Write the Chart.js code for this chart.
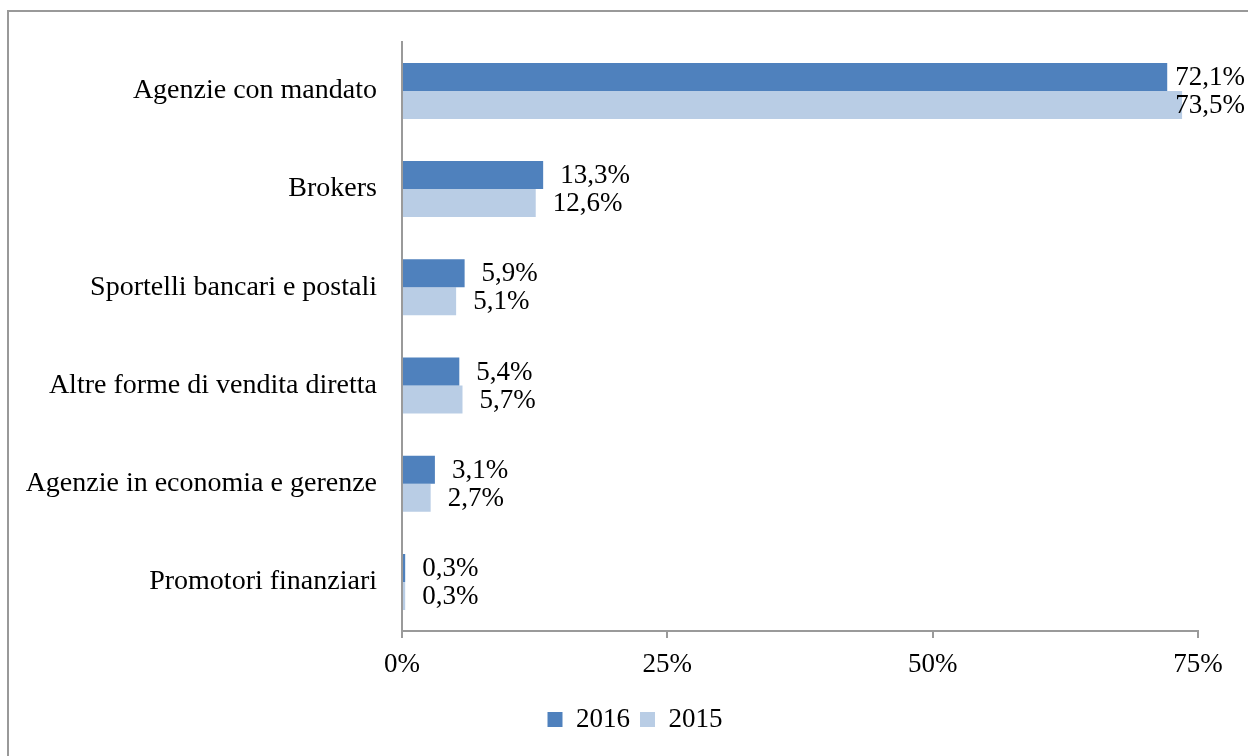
<!DOCTYPE html>
<html>
<head>
<meta charset="utf-8">
<script src="https://cdn.jsdelivr.net/npm/chart.js@4.4.1/dist/chart.umd.min.js"></script>
<style>
  body { margin: 0; background: #fff; }
  #wrap { position: relative; width: 1248px; height: 756px; overflow: hidden; }
  #frame { position: absolute; left: 7px; top: 10px; width: 1300px; height: 800px; border: 2px solid #999; }
  canvas { position: absolute; left: 0; top: 0; }
</style>
</head>
<body>
<div id="wrap">
  <div id="frame"></div>
  <canvas id="myChart" width="1248" height="756"></canvas>
</div>
<script>
var categories = ["Agenzie con mandato", "Brokers", "Sportelli bancari e postali",
  "Altre forme di vendita diretta", "Agenzie in economia e gerenze", "Promotori finanziari"];
var values2016 = [72.1, 13.3, 5.9, 5.4, 3.1, 0.3];
var values2015 = [73.5, 12.6, 5.1, 5.7, 2.7, 0.3];
var xTicks = [0, 25, 50, 75];

var serif = "'Liberation Serif', 'DejaVu Serif', serif";
var axisGray = "#9a9a9a";

function pct(v) {
  return v.toFixed(1).replace(".", ",") + "%";
}

// value labels next to each bar
var barLabels = {
  id: "barLabels",
  beforeDraw: function (chart) {
    // centre the legend a bit further right, like the original
    if (chart.legend) chart.legend.left = 72;
  },
  afterDatasetsDraw: function (chart) {
    var ctx = chart.ctx;
    ctx.save();
    ctx.font = "27px " + serif;
    ctx.fillStyle = "#000";
    ctx.textAlign = "left";
    ctx.textBaseline = "middle";
    chart.data.datasets.forEach(function (ds, i) {
      chart.getDatasetMeta(i).data.forEach(function (bar, j) {
        var txt = pct(ds.data[j]);
        var w = ctx.measureText(txt).width;
        var x = bar.x + 17;
        if (x + w > chart.width - 3) x = chart.width - 3 - w;
        ctx.fillText(txt, x, bar.y + 1);
      });
    });
    ctx.restore();
  }
};

new Chart("myChart", {
  type: "bar",
  data: {
    labels: categories,
    datasets: [{
      label: "2016",
      data: values2016,
      backgroundColor: "#4F81BD",
      categoryPercentage: 0.57,
      barPercentage: 1.0
    }, {
      label: "2015",
      data: values2015,
      backgroundColor: "#B9CDE5",
      categoryPercentage: 0.57,
      barPercentage: 1.0
    }]
  },
  plugins: [barLabels],
  options: {
    indexAxis: "y",
    responsive: false,
    animation: false,
    layout: {
      padding: { top: 40, right: 50, bottom: 13, left: 0 }
    },
    scales: {
      x: {
        min: 0,
        max: 75,
        afterBuildTicks: function (scale) {
          scale.ticks = xTicks.map(function (v) { return { value: v }; });
        },
        afterFit: function (scale) { scale.height = 65; },
        grid: {
          display: true,
          drawOnChartArea: false,
          drawTicks: true,
          tickLength: 7,
          color: axisGray,
          lineWidth: 2
        },
        border: { display: true, color: axisGray, width: 2 },
        ticks: {
          padding: 11,
          color: "#000",
          font: { family: serif, size: 27 },
          callback: function (v) { return v + "%"; }
        }
      },
      y: {
        afterFit: function (scale) { scale.width = 402; },
        grid: { display: false, drawTicks: false },
        border: { display: true, color: axisGray, width: 2 },
        ticks: {
          padding: 25,
          color: "#000",
          font: { family: serif, size: 28 }
        }
      }
    },
    plugins: {
      legend: {
        display: true,
        position: "bottom",
        labels: {
          boxWidth: 15,
          boxHeight: 15,
          color: "#000",
          font: { family: serif, size: 27 }
        }
      },
      tooltip: { enabled: false }
    }
  }
});
</script>
</body>
</html>
